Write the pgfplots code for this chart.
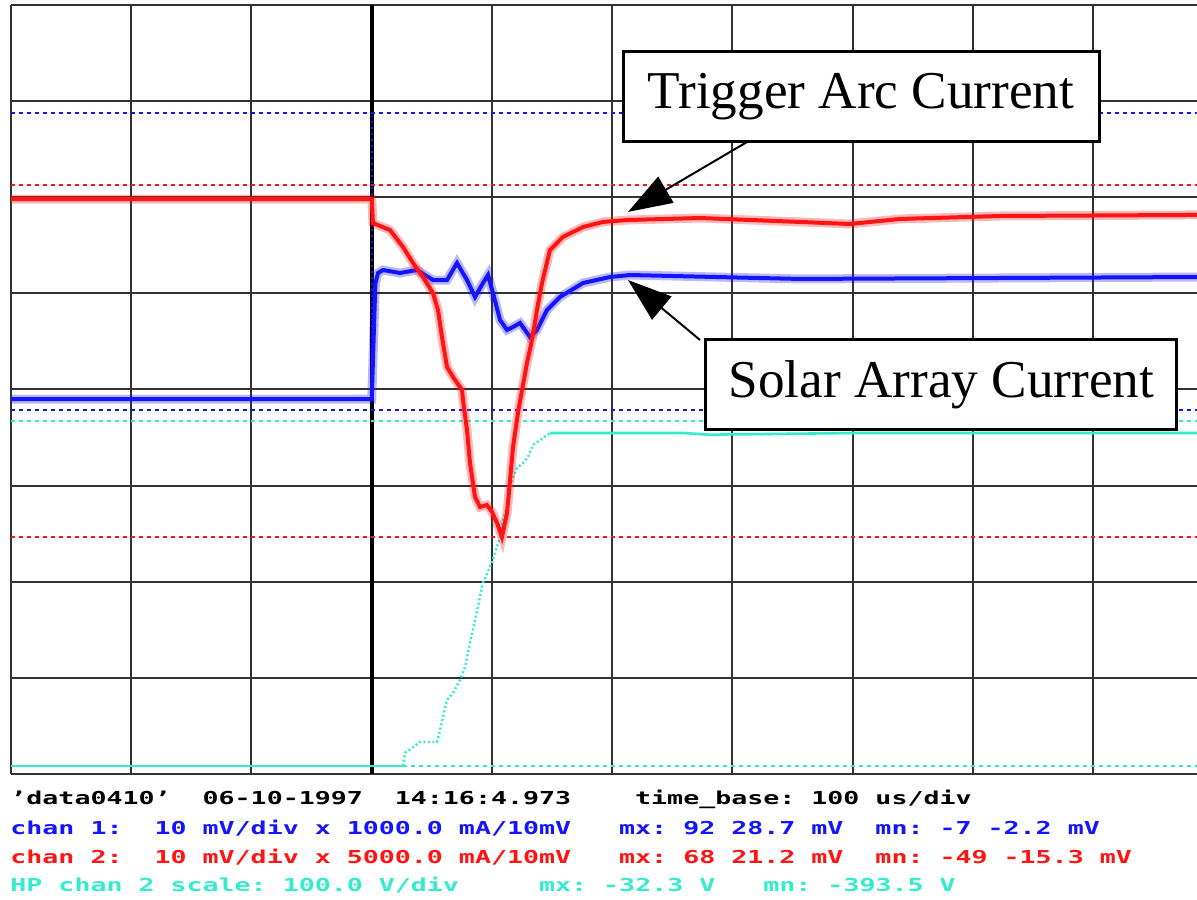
\documentclass[border=0pt]{standalone}
\usepackage{fontspec}
\setmainfont{Liberation Serif}
\newfontfamily\scopefont{DejaVu Sans Mono}[FakeStretch=1.495]
\usepackage{pgfplots}
\pgfplotsset{compat=1.18}
\usetikzlibrary{arrows.meta}

\definecolor{chred}{RGB}{255,20,20}
\definecolor{chblue}{RGB}{20,20,255}
\definecolor{chcyan}{RGB}{50,236,205}

% scope screen: 1 px = 0.5pt, x in divisions (100 us), y in divisions
\begin{document}
\begin{tikzpicture}
\begin{axis}[
    scale only axis, width=593pt, height=384.5pt,
    xmin=0, xmax=9.863, ymin=0, ymax=8,
    axis line style={draw=none},
    xtick={0,...,9}, ytick={0,...,8},
    xticklabels={}, yticklabels={}, major tick length=0pt,
    grid=major, major grid style={black!80, line width=1pt},
    extra x ticks={3}, extra x tick labels={},
    extra x tick style={grid=major, major grid style={black, line width=2.2pt}},
    clip=false,
]
\coordinate (bbsw) at (rel axis cs:0,0);
\coordinate (bbne) at (rel axis cs:1,1);

% reference levels
\addplot[chblue, line width=0.8pt, dash pattern=on 2pt off 2pt] coordinates {(0,6.877) (9.863,6.877)};
\addplot[chred, line width=0.8pt, dash pattern=on 2pt off 2pt] coordinates {(0,6.127) (9.863,6.127)};
\addplot[chblue, line width=0.8pt, dash pattern=on 2pt off 2pt] coordinates {(0,3.787) (9.863,3.787)};
\addplot[chcyan, line width=0.8pt, dash pattern=on 2pt off 2pt] coordinates {(0,3.675) (9.863,3.675)};
\addplot[chred, line width=0.8pt, dash pattern=on 2pt off 2pt] coordinates {(0,2.466) (9.863,2.466)};
\addplot[chcyan, line width=0.8pt, dash pattern=on 2pt off 2pt] coordinates {(3.26,0.083) (9.863,0.083)};

% HP chan 2 (voltage)
\addplot[chcyan, line width=1.3pt] coordinates {(0,0.083) (3.26,0.083)};
\addplot[chcyan, line width=1.2pt, dash pattern=on 1pt off 1.2pt] coordinates {
(3.26,0.083) (3.277,0.218) (3.401,0.333) (3.543,0.333) (3.568,0.458) (3.593,0.593)
(3.626,0.770) (3.676,0.843) (3.734,0.978) (3.776,1.113) (3.817,1.363) (3.859,1.602)
(3.900,1.841) (3.925,1.987) (3.983,2.153) (4.025,2.299) (4.067,2.466) (4.092,2.642)
(4.133,2.819) (4.166,3.059) (4.208,3.183) (4.258,3.235) (4.299,3.298) (4.341,3.423)
(4.424,3.495) (4.482,3.547)};
\addplot[chcyan, line width=1.3pt] coordinates {(4.482,3.547) (5.6,3.547) (5.8,3.530) (7.0,3.547) (9.863,3.547)};

% chan 1 (solar array current)
\addplot[chblue, line width=1pt, dotted] coordinates {(3.005,3.90) (3.005,6.85)};
\addplot[chblue, line width=4.5pt, opacity=0.3] coordinates {
(0,3.90) (3.0,3.90) (3.03,5.10) (3.052,5.212) (3.094,5.243) (3.235,5.212) (3.376,5.243)
(3.509,5.139) (3.626,5.139) (3.709,5.316) (3.792,5.139) (3.859,4.962) (3.925,5.108)
(3.967,5.191) (4.008,5.004) (4.067,4.723) (4.125,4.619) (4.175,4.650) (4.233,4.692)
(4.316,4.546) (4.374,4.619) (4.457,4.827) (4.565,4.962) (4.757,5.108) (4.981,5.170)
(5.148,5.191) (6.561,5.150) (8.225,5.160) (9.863,5.170)};
\addplot[chblue, line width=2pt] coordinates {
(0,3.90) (3.0,3.90) (3.03,5.10) (3.052,5.212) (3.094,5.243) (3.235,5.212) (3.376,5.243)
(3.509,5.139) (3.626,5.139) (3.709,5.316) (3.792,5.139) (3.859,4.962) (3.925,5.108)
(3.967,5.191) (4.008,5.004) (4.067,4.723) (4.125,4.619) (4.175,4.650) (4.233,4.692)
(4.316,4.546) (4.374,4.619) (4.457,4.827) (4.565,4.962) (4.757,5.108) (4.981,5.170)
(5.148,5.191) (6.561,5.150) (8.225,5.160) (9.863,5.170)};

% chan 2 (trigger arc current)
\addplot[chred, line width=4.5pt, opacity=0.3] coordinates {
(0,5.98) (3.0,5.98) (3.010,5.732) (3.069,5.701) (3.152,5.659) (3.260,5.482) (3.343,5.316)
(3.426,5.170) (3.509,5.004) (3.551,4.827) (3.584,4.546) (3.626,4.234) (3.676,4.130)
(3.751,3.995) (3.759,3.891) (3.792,3.579) (3.817,3.235) (3.859,2.882) (3.900,2.778)
(3.958,2.798) (4.000,2.726) (4.042,2.611) (4.083,2.466) (4.125,2.715) (4.150,3.059)
(4.175,3.402) (4.216,3.756) (4.250,3.995) (4.291,4.276) (4.333,4.515) (4.374,4.827)
(4.416,5.108) (4.482,5.451) (4.590,5.587) (4.757,5.690) (4.923,5.743) (5.123,5.763)
(5.730,5.784) (6.561,5.743) (6.977,5.722) (7.393,5.774) (8.225,5.805) (9.863,5.816)};
\addplot[chred, line width=2pt] coordinates {
(0,5.98) (3.0,5.98) (3.010,5.732) (3.069,5.701) (3.152,5.659) (3.260,5.482) (3.343,5.316)
(3.426,5.170) (3.509,5.004) (3.551,4.827) (3.584,4.546) (3.626,4.234) (3.676,4.130)
(3.751,3.995) (3.759,3.891) (3.792,3.579) (3.817,3.235) (3.859,2.882) (3.900,2.778)
(3.958,2.798) (4.000,2.726) (4.042,2.611) (4.083,2.466) (4.125,2.715) (4.150,3.059)
(4.175,3.402) (4.216,3.756) (4.250,3.995) (4.291,4.276) (4.333,4.515) (4.374,4.827)
(4.416,5.108) (4.482,5.451) (4.590,5.587) (4.757,5.690) (4.923,5.743) (5.123,5.763)
(5.730,5.784) (6.561,5.743) (6.977,5.722) (7.393,5.774) (8.225,5.805) (9.863,5.816)};

% callouts
\draw[line width=1pt, -{Triangle[length=22pt,width=15pt]}] (axis cs:6.121,6.575) -- (axis cs:5.131,5.847);
\draw[line width=1pt, -{Triangle[length=22pt,width=15pt]}] (axis cs:5.73,4.515) -- (axis cs:5.131,5.139);
\node[draw, fill=white, line width=1.5pt, minimum width=238pt, minimum height=45pt, inner sep=0pt,
      font=\fontsize{26.6}{30}\selectfont] at (axis cs:7.069,7.043) {Trigger Arc Current};
\node[draw, fill=white, line width=1.5pt, minimum width=235.5pt, minimum height=45pt, inner sep=0pt,
      font=\fontsize{26.6}{30}\selectfont] at (axis cs:7.738,4.047) {Solar Array Current};

% status lines
\begin{scope}[every node/.style={anchor=base west, inner sep=0pt, font=\scopefont\bfseries\fontsize{8.9}{10}\selectfont}]
\node[black] at (axis cs:-0.008,-0.3225) {’data0410’~~06-10-1997~~14:16:4.973~~~~time\_base:~100~us/div};
\node[chblue] at (axis cs:-0.008,-0.6346) {chan~1:~~10~mV/div~x~1000.0~mA/10mV~~~mx:~92~28.7~mV~~mn:~-7~-2.2~mV};
\node[chred] at (axis cs:-0.008,-0.9311) {chan~2:~~10~mV/div~x~5000.0~mA/10mV~~~mx:~68~21.2~mV~~mn:~-49~-15.3~mV};
\node[chcyan] at (axis cs:-0.008,-1.2276) {HP~chan~2~scale:~100.0~V/div~~~~~mx:~-32.3~V~~~mn:~-393.5~V};
\end{scope}
\end{axis}
\pgfresetboundingbox
\path[use as bounding box] ([shift={(-5.5pt,-63pt)}]bbsw) rectangle ([shift={(0pt,2.5pt)}]bbne);
\end{tikzpicture}
\end{document}
